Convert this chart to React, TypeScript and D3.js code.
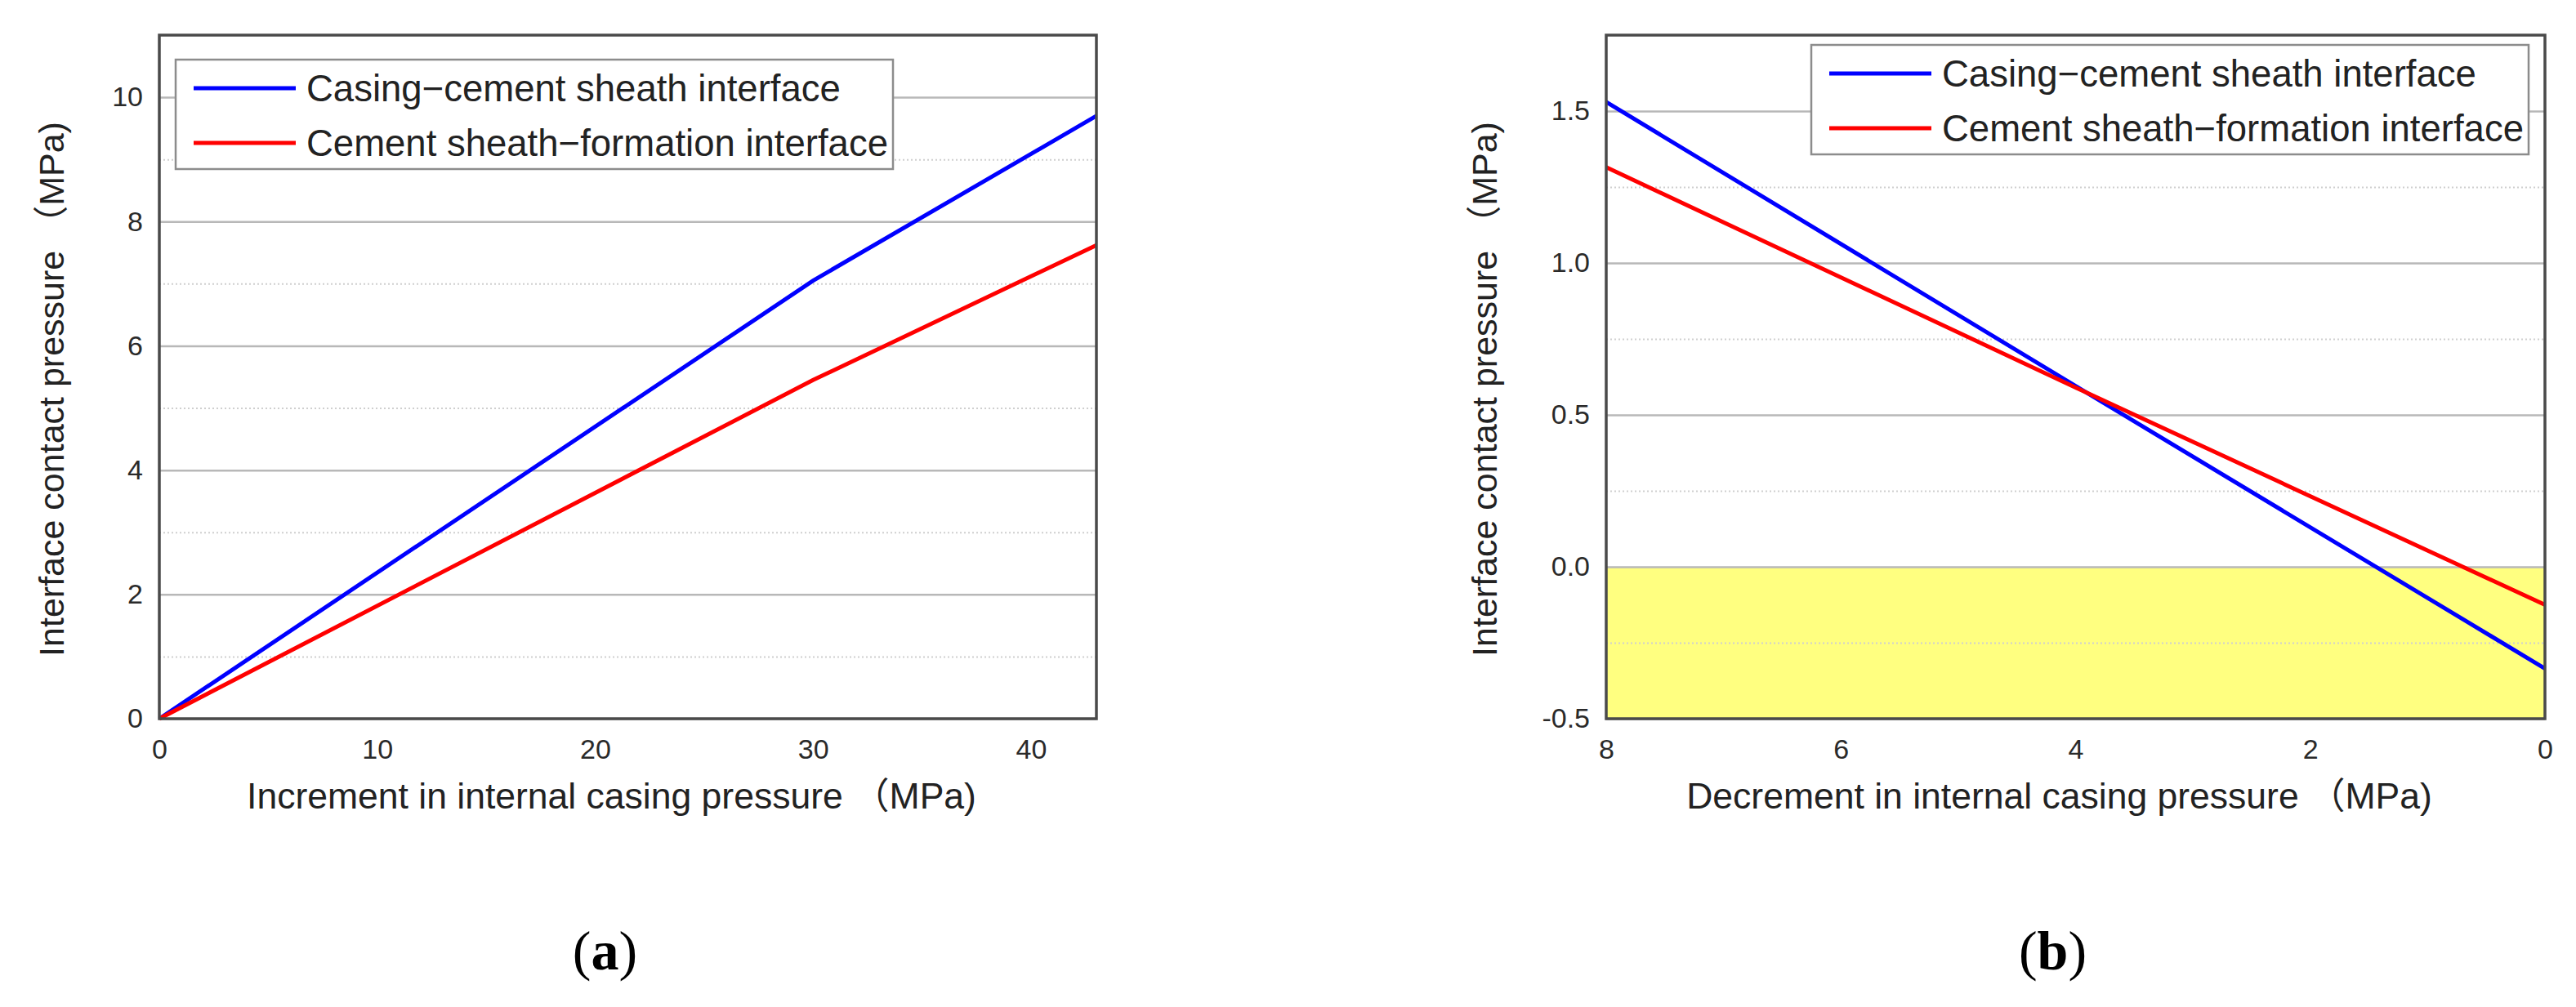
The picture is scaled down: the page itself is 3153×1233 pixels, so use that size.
import React, { useEffect, useRef } from "react";
import * as d3 from "d3";

// (a) increment in internal casing pressure
const incrementX = [0, 30, 43];
const casingA = [0, 7.05, 9.7];
const formationA = [0, 5.45, 7.62];

// (b) decrement in internal casing pressure
const decrementX = [8, 4, 0];
const casingB = [1.53, 0.595, -0.335];
const formationB = [1.315, 0.59, -0.125];

const ticksAx = [0, 10, 20, 30, 40];
const ticksAy = [0, 2, 4, 6, 8, 10];
const minorAy = [1, 3, 5, 7, 9];
const ticksBx = [8, 6, 4, 2, 0];
const ticksBy = [-0.5, 0, 0.5, 1.0, 1.5];
const minorBy = [-0.25, 0.25, 0.75, 1.25];

const seriesNames = [
  "Casing\u2212cement sheath interface",
  "Cement sheath\u2212formation interface",
];
const seriesColors = ["#0000ff", "#ff0000"];

const W = 3153;
const H = 1233;
const FONT = "'Liberation Sans', Arial, 'Noto Sans CJK SC', sans-serif";

interface PanelConfig {
  x: d3.ScaleLinear<number, number>;
  y: d3.ScaleLinear<number, number>;
  xs: number[];
  series: number[][];
  xTicks: number[];
  yTicks: number[];
  yMinor: number[];
  yFormat: (v: number) => string;
  xTitle: string;
  yTitleOffset: number;
  legendLeft: number;
  legendTop: number;
  negativeZone: boolean;
  caption: string;
}

const App: React.FC = () => {
  const svgRef = useRef<SVGSVGElement | null>(null);

  useEffect(() => {
    document.body.style.margin = "0";
    if (!svgRef.current) return;
    const svg = d3.select(svgRef.current);
    svg.selectAll("*").remove();

    svg.append("rect").attr("width", W).attr("height", H).attr("fill", "#fff");

    const drawPanel = (c: PanelConfig) => {
      const [x0, x1] = c.x.range();
      const [y0, y1] = c.y.range(); // y0 bottom, y1 top
      const left = Math.min(x0, x1);
      const right = Math.max(x0, x1);
      const g = svg.append("g");

      // zona de contacto negativo
      if (c.negativeZone) {
        g.append("rect")
          .attr("x", left)
          .attr("y", c.y(0))
          .attr("width", right - left)
          .attr("height", y0 - c.y(0))
          .attr("fill", "#ffff80");
      }

      // rejilla menor (punteada)
      g.append("g")
        .attr("transform", `translate(${left},0)`)
        .call(d3.axisLeft(c.y).tickValues(c.yMinor).tickSize(-(right - left)).tickFormat(() => ""))
        .call((s) => s.select(".domain").remove())
        .selectAll("line")
        .attr("stroke", "#cfcfcf")
        .attr("stroke-width", 2)
        .attr("stroke-dasharray", "2,3");

      // rejilla mayor
      g.append("g")
        .attr("transform", `translate(${left},0)`)
        .call(d3.axisLeft(c.y).tickValues(c.yTicks).tickSize(-(right - left)).tickFormat(() => ""))
        .call((s) => s.select(".domain").remove())
        .selectAll("line")
        .attr("stroke", "#b8b8b8")
        .attr("stroke-width", 2.5);

      // líneas
      const line = d3
        .line<number>()
        .x((_, i) => c.x(c.xs[i]))
        .y((d) => c.y(d));
      c.series.forEach((values, k) => {
        g.append("path")
          .attr("d", line(values) || "")
          .attr("fill", "none")
          .attr("stroke", seriesColors[k])
          .attr("stroke-width", 5);
      });

      // marco
      g.append("rect")
        .attr("x", left)
        .attr("y", y1)
        .attr("width", right - left)
        .attr("height", y0 - y1)
        .attr("fill", "none")
        .attr("stroke", "#4a4a4a")
        .attr("stroke-width", 3.5);

      // eje X
      const ax = g
        .append("g")
        .attr("transform", `translate(0,${y0})`)
        .call(d3.axisBottom(c.x).tickValues(c.xTicks).tickSize(0).tickPadding(25).tickFormat(d3.format("d")));
      ax.select(".domain").remove();
      ax.selectAll("text")
        .attr("font-family", FONT)
        .attr("font-size", 34)
        .attr("fill", "#2a2a2a");

      // eje Y
      const ay = g
        .append("g")
        .attr("transform", `translate(${left},0)`)
        .call(d3.axisLeft(c.y).tickValues(c.yTicks).tickSize(0).tickPadding(20).tickFormat((v) => c.yFormat(+v)));
      ay.select(".domain").remove();
      ay.selectAll("text")
        .attr("font-family", FONT)
        .attr("font-size", 34)
        .attr("fill", "#2a2a2a");

      // títulos
      const cx = (left + right) / 2;
      g.append("text")
        .attr("x", cx - 20)
        .attr("y", y0 + 110)
        .attr("text-anchor", "middle")
        .attr("font-family", FONT)
        .attr("font-size", 44.5)
        .attr("fill", "#222")
        .text(c.xTitle);

      const cy = (y0 + y1) / 2 + 15;
      g.append("text")
        .attr("transform", `translate(${left - c.yTitleOffset},${cy}) rotate(-90)`)
        .attr("text-anchor", "middle")
        .attr("font-family", FONT)
        .attr("font-size", 43)
        .attr("fill", "#222")
        .text("Interface contact pressure \uFF08MPa)");

      // leyenda
      const lg = g.append("g").attr("transform", `translate(${c.legendLeft},${c.legendTop})`);
      lg.append("rect")
        .attr("width", 878)
        .attr("height", 134)
        .attr("fill", "#fff")
        .attr("stroke", "#8c8c8c")
        .attr("stroke-width", 2.5);
      seriesNames.forEach((name, k) => {
        const ry = 35 + k * 67;
        lg.append("line")
          .attr("x1", 22)
          .attr("x2", 147)
          .attr("y1", ry)
          .attr("y2", ry)
          .attr("stroke", seriesColors[k])
          .attr("stroke-width", 5);
        lg.append("text")
          .attr("x", 160)
          .attr("y", ry)
          .attr("dominant-baseline", "central")
          .attr("font-family", FONT)
          .attr("font-size", 45.5)
          .attr("fill", "#222")
          .text(name);
      });

      // rótulo (a)/(b)
      const cap = g
        .append("text")
        .attr("x", cx - 28)
        .attr("y", 1187)
        .attr("text-anchor", "middle")
        .attr("font-family", "'Liberation Serif', 'Times New Roman', serif")
        .attr("font-size", 68)
        .attr("fill", "#000");
      cap.append("tspan").text("(");
      cap.append("tspan").attr("font-weight", "bold").text(c.caption);
      cap.append("tspan").text(")");
    };

    drawPanel({
      x: d3.scaleLinear().domain([0, 43]).range([195, 1342]),
      y: d3.scaleLinear().domain([0, 11]).range([880, 43]),
      xs: incrementX,
      series: [casingA, formationA],
      xTicks: ticksAx,
      yTicks: ticksAy,
      yMinor: minorAy,
      yFormat: d3.format("d"),
      xTitle: "Increment in internal casing pressure \uFF08MPa)",
      yTitleOffset: 117,
      legendLeft: 215,
      legendTop: 73,
      negativeZone: false,
      caption: "a",
    });

    drawPanel({
      x: d3.scaleLinear().domain([8, 0]).range([1966, 3115]),
      y: d3.scaleLinear().domain([-0.5, 1.75]).range([880, 43]),
      xs: decrementX,
      series: [casingB, formationB],
      xTicks: ticksBx,
      yTicks: ticksBy,
      yMinor: minorBy,
      yFormat: (v) => v.toFixed(1),
      xTitle: "Decrement in internal casing pressure \uFF08MPa)",
      yTitleOffset: 134,
      legendLeft: 2217,
      legendTop: 55,
      negativeZone: true,
      caption: "b",
    });
  }, []);

  return <svg ref={svgRef} width={W} height={H} style={{ display: "block" }}></svg>;
};

export default App;
